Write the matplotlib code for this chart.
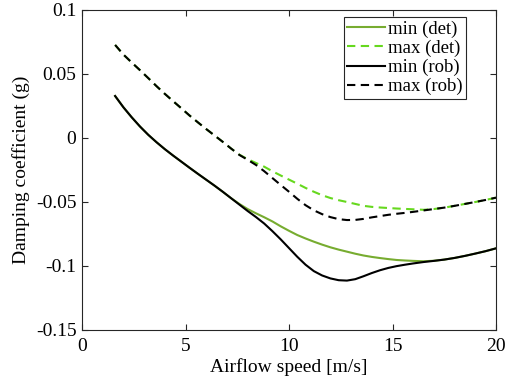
import numpy as np
import matplotlib.pyplot as plt

plt.rcParams['font.family'] = ['Liberation Serif', 'DejaVu Serif']

# airflow speeds (m/s)
v = [1.6, 2.0, 2.4, 2.8, 3.2, 3.6, 4.0, 4.4, 4.8, 5.2, 5.6, 6.0, 6.4, 6.8, 7.2,
     7.6, 8.0, 8.4, 8.8, 9.2, 9.6, 10.0, 10.4, 10.8, 11.2, 11.6, 12.0, 12.4,
     12.8, 13.2, 13.6, 14.0, 14.4, 14.8, 15.2, 15.6, 16.0,
     16.5, 17.0, 17.5, 18.0, 18.5, 19.0, 19.5, 20.0]

min_rob = [0.0328, 0.0240, 0.0162, 0.0090, 0.0025, -0.0033, -0.0087, -0.0137,
           -0.0185, -0.0233, -0.0280, -0.0326, -0.0372, -0.0420, -0.0470,
           -0.0520, -0.0570, -0.0617, -0.0668, -0.0728, -0.0792, -0.0860,
           -0.0928, -0.0990, -0.1040, -0.1074, -0.1097, -0.1111, -0.1114,
           -0.1103, -0.1080, -0.1055, -0.1033, -0.1015, -0.1001, -0.0990,
           -0.0980,
           -0.0969, -0.0960, -0.0950, -0.0937, -0.0921, -0.0903, -0.0884, -0.0862]
min_det = [0.0328, 0.0240, 0.0162, 0.0090, 0.0025, -0.0033, -0.0087, -0.0137,
           -0.0185, -0.0233, -0.0280, -0.0326, -0.0372, -0.0420, -0.0470,
           -0.0515, -0.0555, -0.0588, -0.0619, -0.0652, -0.0690, -0.0725,
           -0.0758, -0.0785, -0.0810, -0.0833, -0.0854, -0.0872, -0.0888,
           -0.0904, -0.0918, -0.0929, -0.0938, -0.0946, -0.0953, -0.0957,
           -0.0960,
           -0.0963, -0.0959, -0.0950, -0.0937, -0.0921, -0.0903, -0.0884, -0.0862]
max_rob = [0.0727, 0.0652, 0.0590, 0.0530, 0.0468, 0.0405, 0.0345, 0.0288,
           0.0232, 0.0175, 0.0122, 0.0070, 0.0020, -0.0030, -0.0082,
           -0.0132, -0.0170, -0.0210, -0.0259, -0.0313, -0.0367, -0.0420,
           -0.0475, -0.0525, -0.0565, -0.0595, -0.0618, -0.0634, -0.0641,
           -0.0640, -0.0632, -0.0620, -0.0610, -0.0600, -0.0592, -0.0585,
           -0.0577,
           -0.0566, -0.0555, -0.0544, -0.0530, -0.0515, -0.0500, -0.0484, -0.0466]
max_det = [0.0727, 0.0652, 0.0590, 0.0530, 0.0468, 0.0405, 0.0345, 0.0288,
           0.0232, 0.0175, 0.0122, 0.0070, 0.0020, -0.0030, -0.0082,
           -0.0130, -0.0165, -0.0195, -0.0224, -0.0260, -0.0293, -0.0325,
           -0.0357, -0.0390, -0.0420, -0.0447, -0.0469, -0.0486, -0.0500,
           -0.0515, -0.0530, -0.0538, -0.0543, -0.0547, -0.0551, -0.0554,
           -0.0557,
           -0.0561, -0.0555, -0.0544, -0.0530, -0.0515, -0.0500, -0.0484, -0.0466]

xticks = [0, 5, 10, 15, 20]
yticks = [-0.15, -0.1, -0.05, 0, 0.05, 0.1]
ytick_labels = ['-0.15', '-0.1', '-0.05', '0', '0.05', '0.1']

fig = plt.figure(figsize=(5.1, 3.85), dpi=100)
ax = fig.add_axes([82/510, 55/385, 414/510, 320/385])

dash = (0, (4, 2.6))
ax.plot(v, min_det, color='#77AC30', lw=1.5, label='min (det)')
ax.plot(v, max_det, color='#66D81E', lw=1.5, ls=dash, label='max (det)')
ax.plot(v, min_rob, color='k', lw=1.5, label='min (rob)')
ax.plot(v, max_rob, color='k', lw=1.5, ls=dash, label='max (rob)')

ax.set_xlim(0, 20)
ax.set_ylim(-0.15, 0.1)
ax.set_xticks(xticks)
ax.set_yticks(yticks)
ax.set_yticklabels(ytick_labels)
ax.tick_params(direction='in', top=True, right=True, labelsize=14, length=4,
               width=0.8, color='#262626')
ax.tick_params(axis='x', pad=6)
ax.tick_params(axis='y', pad=4)
for s in ax.spines.values():
    s.set_linewidth(0.8)
    s.set_color('#262626')
ax.set_xlabel('Airflow speed [m/s]', fontsize=14, labelpad=2)
ax.set_ylabel('Damping coefficient (g)', fontsize=14, labelpad=4)

leg = ax.legend(loc='upper right', bbox_to_anchor=(0.9275, 0.979),
                borderaxespad=0, fontsize=13.5, frameon=True, fancybox=False,
                edgecolor='#262626', framealpha=1, handlelength=2.0,
                handletextpad=0.15, borderpad=0.2, labelspacing=0.1)
leg.get_frame().set_linewidth(0.8)

fig.savefig('out.png', dpi=100)
